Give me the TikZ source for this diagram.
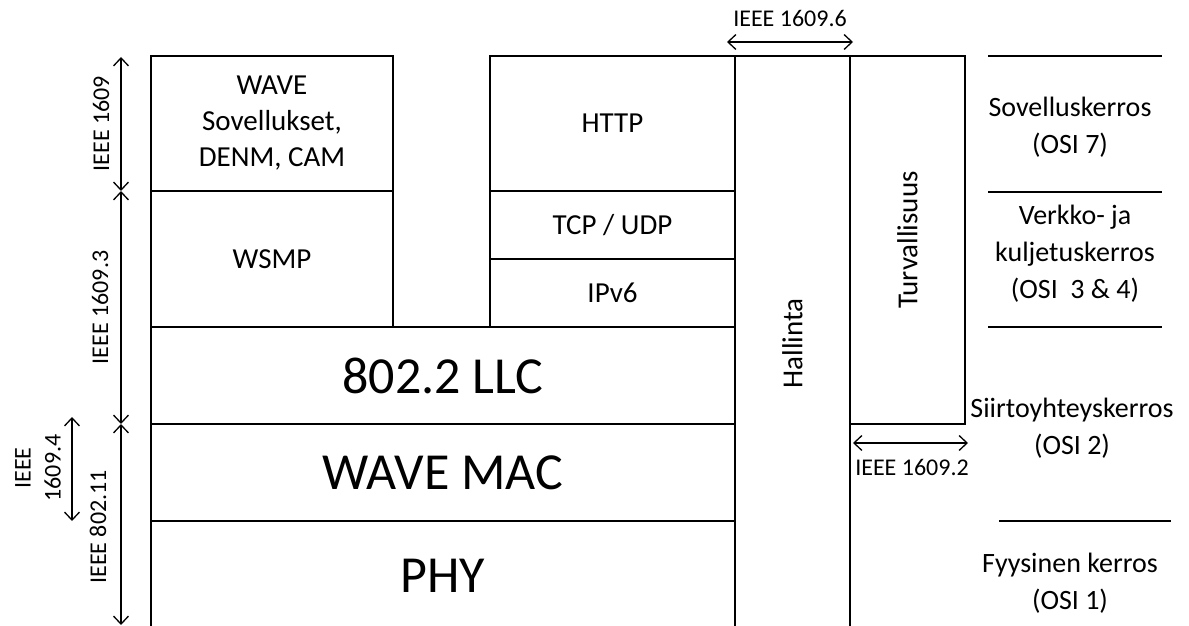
\documentclass[tikz,border=0pt]{standalone}
\usepackage{fontspec}
\setmainfont{Carlito}
\usetikzlibrary{arrows.meta}

\begin{document}
\begin{tikzpicture}[
  x=1pt, y=-1pt,
  layer/.style={draw, line width=2.6pt, inner sep=0pt, align=center, font=\fontsize{29}{36}\selectfont},
  biglayer/.style={layer, font=\fontsize{52}{60}\selectfont},
  std/.style={font=\fontsize{24}{30}\selectfont, align=center, inner sep=0pt},
  osi/.style={font=\fontsize{28}{37}\selectfont, align=center, inner sep=0pt},
  dim/.style={{Straight Barb[length=8pt,width=15pt]}-{Straight Barb[length=8pt,width=15pt]}, line width=1.3pt},
  sep/.style={line width=1.8pt}
]
\clip (0,0) rectangle (1189,626);

% protocol stack
\node[layer, minimum width=242, minimum height=135] (wave) at (272,123.5) {WAVE\\Sovellukset,\\DENM, CAM};
\node[layer, minimum width=242, minimum height=136] (wsmp) at (272,259) {WSMP};
\node[layer, minimum width=245, minimum height=135] (http) at (612.5,123.5) {HTTP};
\node[layer, minimum width=245, minimum height=68] (tcp) at (612.5,225) {TCP / UDP};
\node[layer, minimum width=245, minimum height=68] (ipv6) at (612.5,293) {IPv6};
\node[biglayer, minimum width=584, minimum height=97] (llc) at (443,375.5) {802.2 LLC};
\node[biglayer, minimum width=584, minimum height=97] (mac) at (443,472.5) {WAVE MAC};
\node[biglayer, minimum width=584, minimum height=110] (phy) at (443,576) {PHY};
\node[layer, minimum width=115, minimum height=575] (mgmt) at (792.5,343.5) {};
\node[rotate=90, font=\fontsize{29}{36}\selectfont] (mgmtlbl) at (mgmt.center) {Hallinta};
\node[layer, minimum width=115, minimum height=368] (sec) at (907.5,240) {};
\node[rotate=90, font=\fontsize{29}{36}\selectfont] (seclbl) at (sec.center) {Turvallisuus};

% standards
\coordinate (a0) at (121,57);
\coordinate (a1) at (121,191);
\coordinate (a2) at (121,424);
\coordinate (a3) at (121,625);
\coordinate (b0) at (72,417);
\coordinate (b1) at (72,521);
\coordinate (c0) at (727,42);
\coordinate (c1) at (853,42);
\coordinate (d0) at (853,443);
\coordinate (d1) at (968,443);

\draw[dim] (a0) -- (a1);
\draw[dim] (a1) -- (a2);
\draw[dim] (a2) -- (a3);
\draw[dim] (b0) -- (b1);
\draw[dim] (c0) -- (c1);
\draw[dim] (d0) -- (d1);

\node[std, rotate=90] (s1609) at (101,123.5) {IEEE 1609};
\node[std, rotate=90] (s16093) at (100,307.5) {IEEE 1609.3};
\node[std, rotate=90] (s80211) at (98,527) {IEEE 802.11};
\node[std, rotate=90] (s16094) at (38,468) {IEEE\\1609.4};
\node[std] (s16096) at (790,18) {IEEE 1609.6};
\node[std] (s16092) at (912,467) {IEEE 1609.2};

% OSI layers
\draw[sep] (988,56) -- (1162,56);
\draw[sep] (988,192) -- (1162,192);
\draw[sep] (988,327) -- (1162,327);
\draw[sep] (999,521) -- (1171,521);

\node[osi] (osi7) at (1070,127) {Sovelluskerros\\(OSI 7)};
\node[osi] (osi34) at (1075,254) {Verkko- ja\\kuljetuskerros\\(OSI\ \ 3 \& 4)};
\node[osi] (osi2) at (1072,428) {Siirtoyhteyskerros\\(OSI 2)};
\node[osi] (osi1) at (1070,583) {Fyysinen kerros\\(OSI 1)};
\end{tikzpicture}
\end{document}
